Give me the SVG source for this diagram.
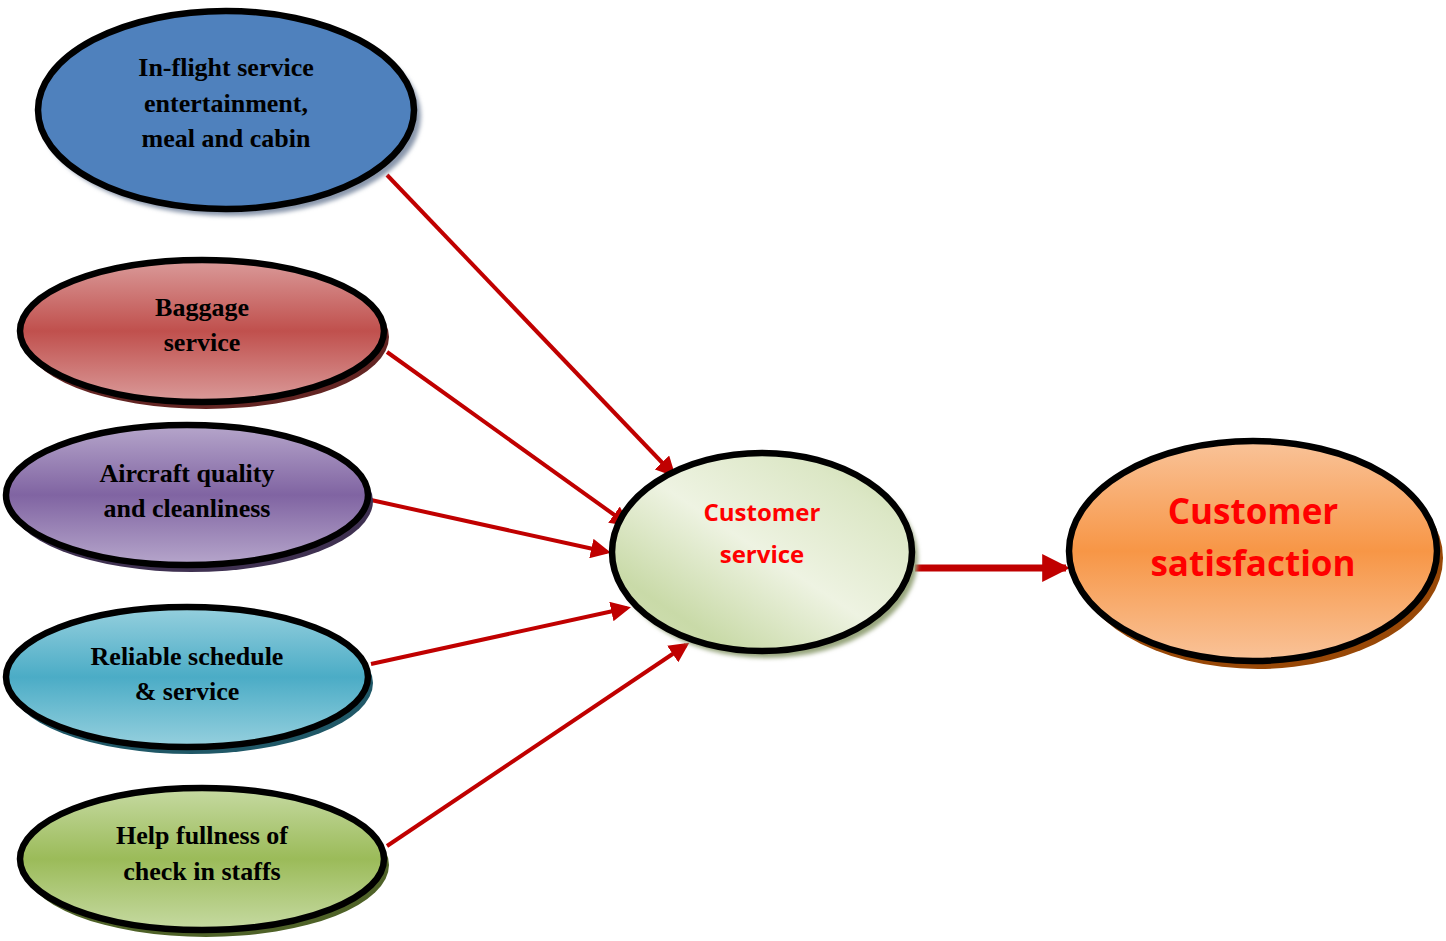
<svg xmlns="http://www.w3.org/2000/svg" width="1446" height="941" viewBox="0 0 1446 941">
<defs>
<linearGradient id="gRed" x1="0" y1="0" x2="0" y2="1"><stop offset="0" stop-color="#DA9B9A"/><stop offset="0.5" stop-color="#C0504D"/><stop offset="1" stop-color="#DA9B9A"/></linearGradient>
<linearGradient id="gPurple" x1="0" y1="0" x2="0" y2="1"><stop offset="0" stop-color="#B6A6CB"/><stop offset="0.5" stop-color="#8064A2"/><stop offset="1" stop-color="#B6A6CB"/></linearGradient>
<linearGradient id="gCyan" x1="0" y1="0" x2="0" y2="1"><stop offset="0" stop-color="#96D0DE"/><stop offset="0.5" stop-color="#4BACC6"/><stop offset="1" stop-color="#96D0DE"/></linearGradient>
<linearGradient id="gGreen" x1="0" y1="0" x2="0" y2="1"><stop offset="0" stop-color="#C6DAA2"/><stop offset="0.5" stop-color="#9BBB59"/><stop offset="1" stop-color="#C6DAA2"/></linearGradient>
<linearGradient id="gOrange" x1="0" y1="0" x2="0" y2="1"><stop offset="0" stop-color="#F9C399"/><stop offset="0.5" stop-color="#F79646"/><stop offset="1" stop-color="#F9C399"/></linearGradient>
<linearGradient id="gLight" x1="0" y1="1" x2="1" y2="0"><stop offset="0" stop-color="#D3E1B7"/><stop offset="0.2" stop-color="#C9DAA8"/><stop offset="0.5" stop-color="#EEF3E2"/><stop offset="0.8" stop-color="#DCE7C6"/><stop offset="1" stop-color="#C9DAA8"/></linearGradient>
<filter id="blur" x="-10%" y="-10%" width="120%" height="120%"><feGaussianBlur stdDeviation="2"/></filter>
<marker id="ah" markerWidth="5" markerHeight="5" refX="4" refY="2.5" orient="auto" markerUnits="strokeWidth"><path d="M0,0 L5,2.5 L0,5 z" fill="#C00000"/></marker>
<marker id="ah2" markerWidth="4" markerHeight="4" refX="3.4" refY="2" orient="auto" markerUnits="strokeWidth"><path d="M0,0 L4,2 L0,4 z" fill="#C00000"/></marker>
</defs>
<style>
.edge{stroke:#C00000;stroke-width:4;fill:none;marker-end:url(#ah)}
.node{stroke:#000;stroke-width:6.5}
.lbl{font-family:"Liberation Serif","Times New Roman",serif;font-weight:bold;font-size:26px;fill:#000;text-anchor:middle}
.red{font-family:"Open Sans","Liberation Sans",sans-serif;font-weight:bold;fill:#FF0000;text-anchor:middle}
</style>
<g id="connectors">
<line class="edge" x1="387" y1="175" x2="673" y2="474"/>
<line class="edge" x1="387" y1="352" x2="627" y2="524"/>
<line class="edge" x1="371" y1="500" x2="607" y2="552"/>
<line class="edge" x1="371" y1="664" x2="627" y2="608"/>
<line class="edge" x1="387" y1="846" x2="686" y2="645"/>
<line x1="915" y1="568" x2="1066" y2="568" stroke="#C00000" stroke-width="7" fill="none" marker-end="url(#ah2)"/>
</g>
<g id="n1">
<ellipse cx="231" cy="116" rx="190" ry="100" fill="#8A97AC" filter="url(#blur)"/>
<ellipse class="node" cx="226" cy="110" rx="188" ry="99" fill="#4F81BD"/>
<text class="lbl" x="226" y="76">In-flight service</text>
<text class="lbl" x="226" y="112">entertainment,</text>
<text class="lbl" x="226" y="147">meal and cabin</text>
</g>
<g id="n2">
<ellipse cx="206" cy="337" rx="183" ry="72" fill="#632523"/>
<ellipse class="node" cx="202" cy="331" rx="182" ry="71" fill="url(#gRed)"/>
<text class="lbl" x="202" y="316">Baggage</text>
<text class="lbl" x="202" y="351">service</text>
</g>
<g id="n3">
<ellipse cx="191" cy="501" rx="182" ry="71" fill="#3F3151"/>
<ellipse class="node" cx="187" cy="495" rx="181" ry="70" fill="url(#gPurple)"/>
<text class="lbl" x="187" y="482">Aircraft quality</text>
<text class="lbl" x="187" y="517">and cleanliness</text>
</g>
<g id="n4">
<ellipse cx="191" cy="683" rx="182" ry="71" fill="#205867"/>
<ellipse class="node" cx="187" cy="677" rx="181" ry="70" fill="url(#gCyan)"/>
<text class="lbl" x="187" y="665">Reliable schedule</text>
<text class="lbl" x="187" y="700">&amp; service</text>
</g>
<g id="n5">
<ellipse cx="206" cy="865" rx="183" ry="72" fill="#4F6228"/>
<ellipse class="node" cx="202" cy="859" rx="182" ry="71" fill="url(#gGreen)"/>
<text class="lbl" x="202" y="844">Help fullness of</text>
<text class="lbl" x="202" y="880">check in staffs</text>
</g>
<g id="n6">
<ellipse cx="767" cy="558" rx="151" ry="100" fill="#98A67E" filter="url(#blur)"/>
<ellipse class="node" cx="762" cy="552" rx="150" ry="99" fill="url(#gLight)"/>
<text class="red" x="762" y="521" font-size="24">Customer</text>
<text class="red" x="762" y="563" font-size="24">service</text>
</g>
<g id="n7">
<ellipse cx="1258" cy="558" rx="185" ry="111" fill="#984807"/>
<ellipse class="node" cx="1253" cy="551" rx="184" ry="110" fill="url(#gOrange)"/>
<text class="red" x="1253" y="524" font-size="35">Customer</text>
<text class="red" x="1253" y="576" font-size="35">satisfaction</text>
</g>
</svg>
